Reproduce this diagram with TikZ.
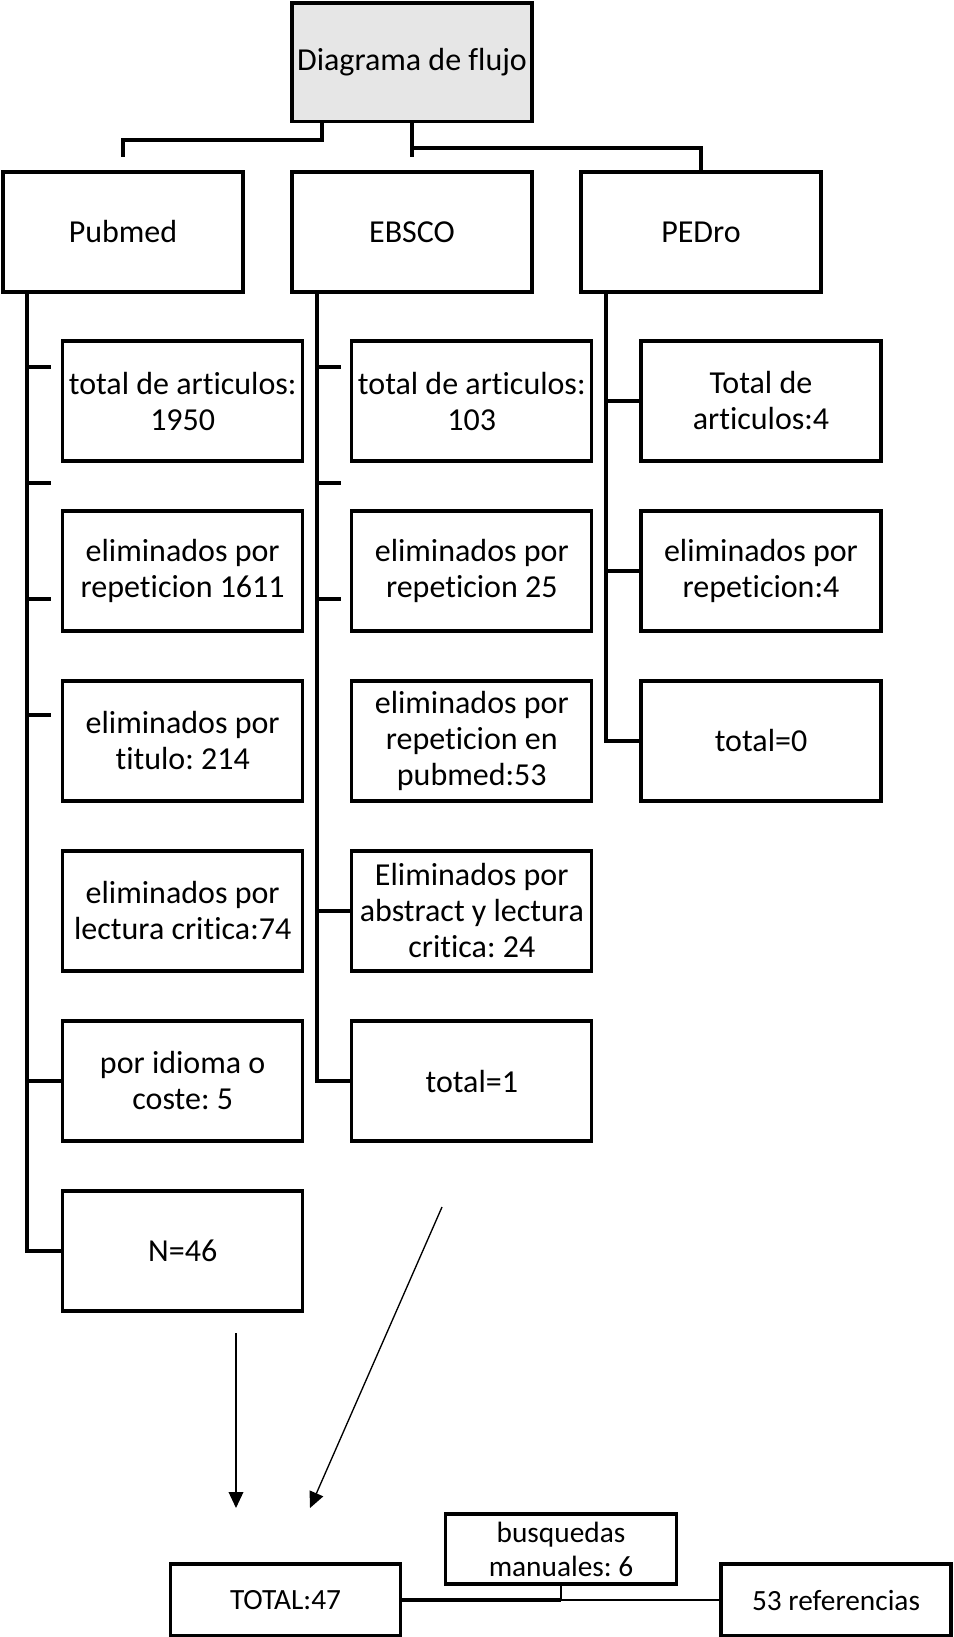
\documentclass[tikz,border=0pt]{standalone}
\usepackage{fontspec}
\setmainfont[Ligatures={NoCommon,NoContextual}]{Carlito}
\frenchspacing
\usetikzlibrary{arrows.meta}
\definecolor{boxgray}{RGB}{230,230,230}
\tikzset{
	box/.style={draw, line width=1.15pt, minimum width=90pt, minimum height=45pt, inner sep=0pt, align=center, font=\fontsize{12}{13.5}\selectfont},
	smallbox/.style={draw, line width=1.15pt, minimum width=86.25pt, minimum height=27pt, inner sep=0pt, align=center, font=\fontsize{11}{12.75}\selectfont},
	link/.style={line width=1.15pt},
	flow/.style={line width=0.5pt, -{Triangle[length=6pt,width=5.5pt]}}
}

\begin{document}
\begin{tikzpicture}[x=0.375pt, y=-0.375pt]
		%%%%% START %%%%%
		\useasboundingbox (0,0) rectangle (954,1637);
		
		\node[box, fill=boxgray, minimum height=44.6pt] (diag) at (412,62.5) {Diagrama de flujo};
		
		\node[box] (pub) at (123,232) {Pubmed};
		\node[box] (ebsco) at (412,232) {EBSCO};
		\node[box] (pedro) at (701,232) {PEDro};
		
		% top connectors
		\coordinate (lt) at (322,122);
		\coordinate (lj) at (123,157);
		\coordinate (mj) at (412,157);
		\coordinate (mk) at (412,148);
		\draw[link] (lt) -- (322,140) -| (lj);
		\draw[link] (diag.south) -- (mj);
		\draw[link] (mk) -| (pedro.north);
		
		% Pubmed
		\node[box] (pub1) at (182.7,401) {total de articulos:\\1950};
		\node[box] (pub2) at (182.7,571) {eliminados por\\repeticion 1611};
		\node[box] (pub3) at (182.7,741) {eliminados por\\titulo: 214};
		\node[box] (pub4) at (182.7,911) {eliminados por\\lectura critica:74};
		\node[box] (pub5) at (182.7,1081) {por idioma o\\coste: 5};
		\node[box] (pub6) at (182.7,1251) {N=46};
		
		\coordinate (ps) at (27,292);
		\draw[link] (ps) |- (pub6.west);
		\draw[link] (ps |- pub5.west) -- (pub5.west);
		\foreach \y in {367,483,599,715}
			\draw[link] (27,\y) -- ++(24,0);
		
		% EBSCO
		\node[box] (eb1) at (471.8,401) {total de articulos:\\103};
		\node[box] (eb2) at (471.8,571) {eliminados por\\repeticion 25};
		\node[box] (eb3) at (471.8,741) {eliminados por\\repeticion en\\pubmed:53};
		\node[box] (eb4) at (471.8,911) {Eliminados por\\abstract y lectura\\critica: 24};
		\node[box] (eb5) at (471.8,1081) {total=1};
		
		\coordinate (es) at (317,292);
		\draw[link] (es) |- (eb5.west);
		\draw[link] (es |- eb4.west) -- (eb4.west);
		\foreach \y in {367,483,599}
			\draw[link] (317,\y) -- ++(24,0);
		
		% PEDro
		\node[box] (pe1) at (761,401) {Total de\\articulos:4};
		\node[box] (pe2) at (761,571) {eliminados por\\repeticion:4};
		\node[box] (pe3) at (761,741) {total=0};
		
		\coordinate (ds) at (606,292);
		\draw[link] (ds) |- (pe3.west);
		\draw[link] (ds |- pe1.west) -- (pe1.west);
		\draw[link] (ds |- pe2.west) -- (pe2.west);
		
		% arrows down
		\coordinate (a1) at (236,1333);
		\coordinate (a1e) at (236,1508);
		\coordinate (a2) at (442,1207);
		\coordinate (a2e) at (310,1508);
		\draw[flow] (a1) -- (a1e);
		\draw[flow] (a2) -- (a2e);
		
		% bottom
		\node[smallbox] (tot) at (285.5,1600) {TOTAL:47};
		\node[smallbox, minimum width=86.6pt, minimum height=26.25pt] (busq) at (561,1549) {busquedas\\manuales: 6};
		\node[smallbox] (ref) at (836,1600) {53 referencias};
		
		\coordinate (join) at (561,1600);
		\draw[link] (tot.east) -- (join);
		\draw[line width=0.75pt] (join) -- (ref.west);
		\draw[line width=0.75pt] (busq.south) -- (join);
		
		%%%%% END %%%%%
	\end{tikzpicture}
\end{document}
